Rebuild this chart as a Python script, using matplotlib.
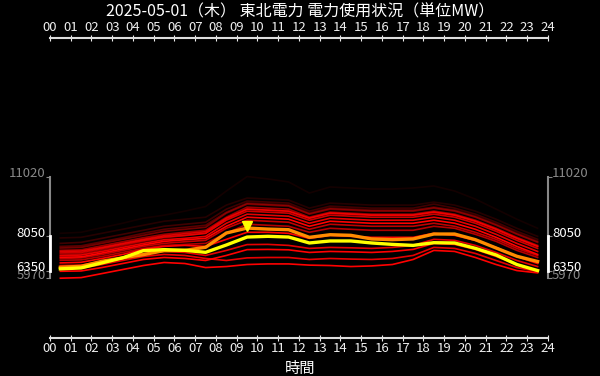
import numpy as np
import matplotlib
matplotlib.use("Agg")
import matplotlib.pyplot as plt
import matplotlib.transforms as mtransforms

plt.rcParams['font.family'] = ['Noto Sans CJK JP', 'DejaVu Sans']

title = "2025-05-01（木） 東北電力 電力使用状況（単位MW）"
hours = [h + 0.5 for h in range(24)]
hour_labels = ["%02d" % h for h in range(25)]

# today (yellow) and forecast/yesterday (orange)
today = [6435, 6480, 6730, 6980, 7340, 7390, 7355, 7255, 7620, 8015, 8050, 8015,
         7720, 7820, 7820, 7720, 7650, 7600, 7735, 7720, 7455, 7125, 6650, 6350]
orange = [6515, 6560, 6810, 6980, 7140, 7340, 7355, 7505, 8215, 8460, 8410, 8380,
          8000, 8130, 8100, 7920, 7885, 7920, 8165, 8165, 7885, 7470, 7060, 6800]

# past days (red), with their alpha
past = [
    [8200, 8250, 8480, 8700, 8950, 9100, 9300, 9530, 10300, 11020, 10900, 10750,
     10200, 10500, 10450, 10400, 10400, 10450, 10550, 10300, 9900, 9400, 8900, 8450],
    [7970, 8000, 8200, 8400, 8600, 8800, 8900, 9000, 9600, 9950, 9900, 9850,
     9450, 9700, 9650, 9600, 9600, 9600, 9750, 9600, 9300, 8900, 8450, 8050],
    [7700, 7750, 7950, 8150, 8350, 8550, 8650, 8750, 9400, 9800, 9750, 9700,
     9300, 9550, 9500, 9450, 9450, 9450, 9650, 9450, 9150, 8750, 8300, 7900],
    [7550, 7580, 7780, 7980, 8200, 8400, 8500, 8600, 9250, 9700, 9650, 9600,
     9200, 9450, 9400, 9350, 9350, 9350, 9500, 9350, 9050, 8650, 8200, 7800],
    [7470, 7500, 7700, 7900, 8100, 8300, 8400, 8500, 9200, 9650, 9600, 9550,
     9150, 9400, 9350, 9300, 9300, 9300, 9450, 9300, 9000, 8600, 8150, 7750],
    [7355, 7380, 7580, 7780, 7980, 8150, 8250, 8350, 9000, 9500, 9450, 9400,
     9000, 9250, 9200, 9150, 9150, 9150, 9300, 9150, 8850, 8450, 8000, 7600],
    [7300, 7320, 7500, 7700, 7900, 8080, 8180, 8280, 8950, 9400, 9350, 9300,
     8950, 9200, 9150, 9100, 9100, 9100, 9250, 9100, 8800, 8400, 7950, 7550],
    [7225, 7250, 7450, 7650, 7850, 8020, 8100, 8200, 8850, 9300, 9250, 9200,
     8850, 9100, 9050, 9000, 9000, 9000, 9150, 9000, 8700, 8300, 7850, 7450],
    [7150, 7180, 7380, 7580, 7800, 7980, 8080, 8200, 8900, 9400, 9350, 9300,
     8950, 9200, 9150, 9100, 9100, 9100, 9250, 9100, 8800, 8400, 7950, 7550],
    [7090, 7120, 7300, 7500, 7700, 7880, 7950, 8050, 8700, 9150, 9100, 9050,
     8700, 8950, 8900, 8850, 8850, 8850, 9000, 8850, 8550, 8150, 7700, 7300],
    [7010, 7030, 7220, 7420, 7620, 7800, 7880, 7950, 8550, 9000, 8950, 8900,
     8550, 8800, 8750, 8700, 8700, 8700, 8850, 8700, 8400, 8000, 7550, 7150],
    [6950, 6980, 7150, 7350, 7550, 7700, 7780, 7850, 8450, 8850, 8800, 8750,
     8400, 8650, 8600, 8550, 8550, 8550, 8700, 8550, 8250, 7900, 7450, 7100],
    [6860, 6880, 7050, 7250, 7450, 7600, 7650, 7700, 8200, 8650, 8600, 8550,
     8250, 8450, 8400, 8350, 8350, 8350, 8550, 8450, 8150, 7800, 7350, 7000],
    [6730, 6760, 6950, 7150, 7400, 7550, 7600, 7550, 7900, 8250, 8250, 8200,
     7950, 8100, 8050, 8000, 8000, 8000, 8200, 8100, 7850, 7500, 7050, 6700],
    [6600, 6620, 6800, 7000, 7200, 7300, 7250, 7100, 7350, 7640, 7650, 7600,
     7450, 7500, 7480, 7450, 7500, 7600, 7900, 7850, 7600, 7250, 6850, 6550],
    [6450, 6470, 6650, 6850, 7050, 7150, 7100, 6950, 6850, 6980, 7000, 7000,
     6900, 6950, 6920, 6900, 6950, 7100, 7500, 7450, 7200, 6850, 6500, 6300],
    [6315, 6330, 6500, 6700, 6900, 7000, 6950, 6850, 7100, 7390, 7400, 7380,
     7250, 7300, 7280, 7250, 7300, 7400, 7700, 7650, 7400, 7050, 6650, 6350],
    [5970, 6000, 6200, 6400, 6600, 6750, 6700, 6500, 6550, 6650, 6680, 6680,
     6620, 6600, 6550, 6580, 6650, 6900, 7350, 7300, 7000, 6650, 6350, 6235],
]
past_alpha = [0.08, 0.15, 0.25, 0.35, 0.45, 0.6, 0.85, 0.8, 0.55, 0.9, 1.0, 0.75,
              0.7, 1.0, 0.9, 0.9, 1.0, 1.0]

fig = plt.figure(figsize=(6, 3.76), dpi=100, facecolor='black')
ax = fig.add_axes([0.0833, 0.101, 0.83, 0.798])
ax.set_facecolor('black')

for vals, a in zip(past, past_alpha):
    ax.plot(hours, vals, color='red', alpha=a, lw=1.2, zorder=2)
ax.plot(hours, orange, color='#ff8c00', lw=2.4, zorder=3)
ax.plot(hours, today, color='yellow', lw=2.4, zorder=4)
peak = int(np.argmax(orange))
ax.plot(hours[peak], orange[peak] + 80, marker='v', color='yellow', ms=7, zorder=5)

ax.set_xlim(0, 24)
ax.set_ylim(3000, 17900)

ax.set_xticks(range(25))
ax.set_xticklabels(hour_labels)
ax.tick_params(axis='x', top=True, labeltop=True, bottom=True, labelbottom=True,
               colors='#eeeeee', labelsize=9.5, direction='inout', length=4, pad=1)
for s in ['top', 'bottom']:
    ax.spines[s].set_color('#dddddd')
    ax.spines[s].set_linewidth(1.5)

# y brackets: full range gray, today's range white
lo_all = min(min(v) for v in past)
hi_all = max(max(v) for v in past)
lo_today, hi_today = min(today), max(today)
yt = [lo_all, lo_today, hi_today, hi_all]
ycol = ['#888888', 'white', 'white', '#888888']
ax.set_yticks(yt)
ax.tick_params(axis='y', left=True, right=True, labelleft=False, labelright=False,
               direction='out', length=3, color='#888888')
for t, c in zip(ax.yaxis.get_major_ticks(), ycol):
    t.tick1line.set_color(c)
    t.tick2line.set_color(c)
for s in ['left', 'right']:
    ax.spines[s].set_bounds(lo_all, hi_all)
    ax.spines[s].set_color('#888888')
    ax.spines[s].set_linewidth(1.5)
trans = mtransforms.blended_transform_factory(ax.transAxes, ax.transData)
for xa in [0, 1]:
    ax.plot([xa, xa], [lo_today, hi_today], color='white', lw=2,
            transform=trans, clip_on=False, zorder=6)
# y labels sit a little above their ticks
for v, c in zip(yt, ycol):
    ax.annotate(str(v), (0, v), xycoords=trans, xytext=(-3, 2.2), textcoords='offset points',
                ha='right', va='center', color=c, fontsize=9.5, annotation_clip=False)
    ax.annotate(str(v), (1, v), xycoords=trans, xytext=(3, 2.2), textcoords='offset points',
                ha='left', va='center', color=c, fontsize=9.5, annotation_clip=False)

fig.text(0.5, 1 - 368 / 376, "時間", color='white', fontsize=11, ha='center', va='center')
fig.text(0.5, 1 - 12 / 376, title, color='white', fontsize=11.5, ha='center', va='center')

fig.savefig("out.png", dpi=100, facecolor='black')
